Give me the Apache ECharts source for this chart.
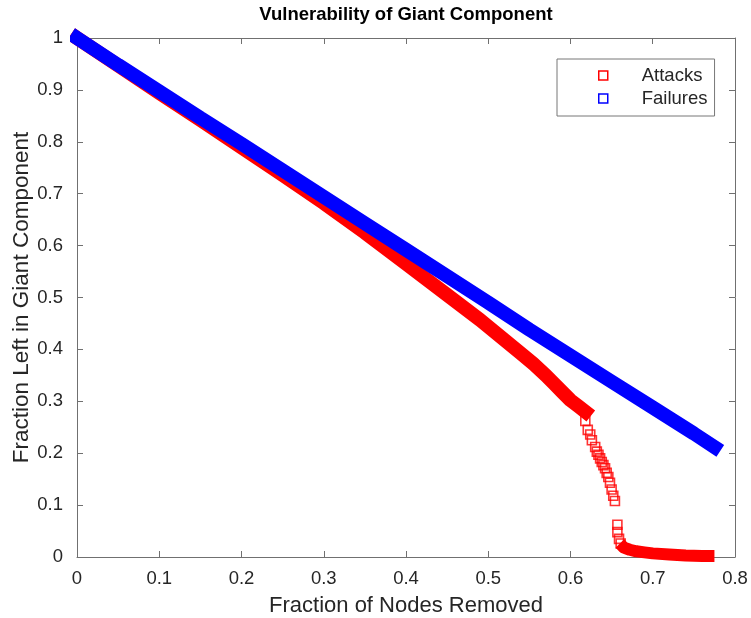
<!DOCTYPE html>
<html>
<head>
<meta charset="utf-8">
<script src="https://cdn.jsdelivr.net/npm/echarts@6/dist/echarts.min.js"></script>
<style>
  html, body { margin: 0; padding: 0; background: #fff; }
  #main { width: 751px; height: 618px; }
</style>
</head>
<body>
<div id="main"></div>
<script>
// attacks - dense part (band)
const attackX = [0, 0.05, 0.1, 0.15, 0.2, 0.25, 0.3, 0.35, 0.4, 0.45, 0.49, 0.52, 0.54, 0.555, 0.57, 0.58, 0.59, 0.6, 0.61, 0.618];
const attackY = [1.0, 0.947, 0.894, 0.842, 0.789, 0.736, 0.682, 0.625, 0.565, 0.505, 0.457, 0.418, 0.392, 0.372, 0.35, 0.334, 0.318, 0.302, 0.29, 0.28];
// attacks - the sparse squares where it collapses
const dropX = [0.618, 0.621, 0.624, 0.626, 0.63, 0.632, 0.634, 0.636, 0.638, 0.64, 0.642, 0.644, 0.646, 0.648, 0.65, 0.652, 0.654, 0.657, 0.657, 0.659, 0.661];
const dropY = [0.262, 0.245, 0.236, 0.225, 0.212, 0.203, 0.197, 0.19, 0.183, 0.177, 0.171, 0.162, 0.154, 0.143, 0.13, 0.118, 0.108, 0.062, 0.048, 0.035, 0.026];
// attacks - tail near zero
const tailX = [0.66, 0.665, 0.672, 0.68, 0.69, 0.7, 0.72, 0.74, 0.76, 0.775];
const tailY = [0.026, 0.018, 0.014, 0.011, 0.009, 0.007, 0.005, 0.003, 0.002, 0.002];
// failures
const failX = [0, 0.05, 0.1, 0.15, 0.2, 0.25, 0.3, 0.35, 0.4, 0.45, 0.5, 0.55, 0.6, 0.65, 0.7, 0.75, 0.775];
const failY = [1.0, 0.948, 0.897, 0.846, 0.796, 0.745, 0.694, 0.643, 0.592, 0.541, 0.49, 0.438, 0.388, 0.338, 0.288, 0.238, 0.212];

const xTicks = [0, 0.1, 0.2, 0.3, 0.4, 0.5, 0.6, 0.7, 0.8];
const yTicks = [0, 0.1, 0.2, 0.3, 0.4, 0.5, 0.6, 0.7, 0.8, 0.9, 1];

const zip = (xs, ys) => xs.map((x, i) => [x, ys[i]]);

const RED = '#ff0000';
const BLUE = '#0000ff';
const AXIS = '#707070';
const TEXT = '#262626';
const FONT = 'Liberation Sans, Arial, Helvetica, sans-serif';

const myChart = echarts.init(document.getElementById('main'));

const axisCommon = {
  type: 'value',
  axisLine: { show: true, onZero: false, lineStyle: { color: AXIS, width: 1 } },
  axisTick: { show: true, inside: true, length: 6, lineStyle: { color: AXIS } },
  splitLine: { show: false }
};

const option = {
  animation: false,
  backgroundColor: '#fff',
  title: {
    text: 'Vulnerability of Giant Component',
    left: 406,
    textAlign: 'center',
    top: 5,
    padding: 0,
    textStyle: { fontFamily: FONT, fontSize: 18.5, fontWeight: 'bold', color: '#000' }
  },
  grid: { left: 77, right: 16, top: 38, bottom: 61, containLabel: false, outerBoundsMode: 'none' },
  legend: {
    orient: 'vertical',
    left: 557,
    top: 59,
    padding: [7, 7, 8, 41],
    itemGap: 4,
    itemWidth: 9,
    itemHeight: 9,
    borderColor: '#777',
    borderWidth: 1,
    backgroundColor: '#fff',
    textStyle: { fontFamily: FONT, fontSize: 18.5, color: TEXT, padding: [0, 0, 0, 29] },
    data: [
      { name: 'Attacks', icon: 'rect', itemStyle: { color: '#fff', borderColor: RED, borderWidth: 1.5 } },
      { name: 'Failures', icon: 'rect', itemStyle: { color: '#fff', borderColor: BLUE, borderWidth: 1.5 } }
    ]
  },
  xAxis: [
    Object.assign({}, axisCommon, {
      min: 0, max: 0.8, interval: 0.1,
      name: 'Fraction of Nodes Removed',
      nameLocation: 'middle',
      nameGap: 38,
      nameMoveOverlap: false,
      nameTextStyle: { fontFamily: FONT, fontSize: 22, color: TEXT },
      axisLabel: {
        fontFamily: FONT, fontSize: 18.5, color: TEXT, margin: 12,
        formatter: v => xTicks.includes(+v.toFixed(1)) ? String(+v.toFixed(1)) : ''
      }
    }),
    Object.assign({}, axisCommon, {
      position: 'top', min: 0, max: 0.8, interval: 0.1,
      axisLabel: { show: false }
    })
  ],
  yAxis: [
    Object.assign({}, axisCommon, {
      min: 0, max: 1, interval: 0.1,
      name: 'Fraction Left in Giant Component',
      nameLocation: 'middle',
      nameGap: 44,
      nameMoveOverlap: false,
      nameTextStyle: { fontFamily: FONT, fontSize: 22.5, color: TEXT },
      axisLabel: {
        fontFamily: FONT, fontSize: 18.5, color: TEXT, margin: 14,
        formatter: v => yTicks.includes(+v.toFixed(1)) ? String(+v.toFixed(1)) : ''
      }
    }),
    Object.assign({}, axisCommon, {
      position: 'right', min: 0, max: 1, interval: 0.1,
      axisLabel: { show: false }
    })
  ],
  series: [
    {
      name: 'Attacks',
      type: 'line',
      data: zip(attackX, attackY),
      showSymbol: false,
      clip: false,
      silent: true,
      lineStyle: { color: RED, width: 14, cap: 'square', join: 'round' },
      itemStyle: { color: RED }
    },
    {
      name: 'Attacks',
      type: 'scatter',
      data: zip(dropX, dropY),
      symbol: 'rect',
      symbolSize: 9,
      silent: true,
      itemStyle: { color: 'rgba(0,0,0,0)', borderColor: RED, borderWidth: 1.6 }
    },
    {
      name: 'Attacks',
      type: 'line',
      data: zip(tailX, tailY),
      showSymbol: false,
      clip: false,
      silent: true,
      lineStyle: { color: RED, width: 12, cap: 'butt', join: 'round' },
      itemStyle: { color: RED }
    },
    {
      name: 'Failures',
      type: 'line',
      data: zip(failX, failY),
      showSymbol: false,
      clip: false,
      silent: true,
      lineStyle: { color: BLUE, width: 14, cap: 'square', join: 'bevel' },
      itemStyle: { color: BLUE }
    }
  ]
};

myChart.setOption(option);
</script>
</body>
</html>
